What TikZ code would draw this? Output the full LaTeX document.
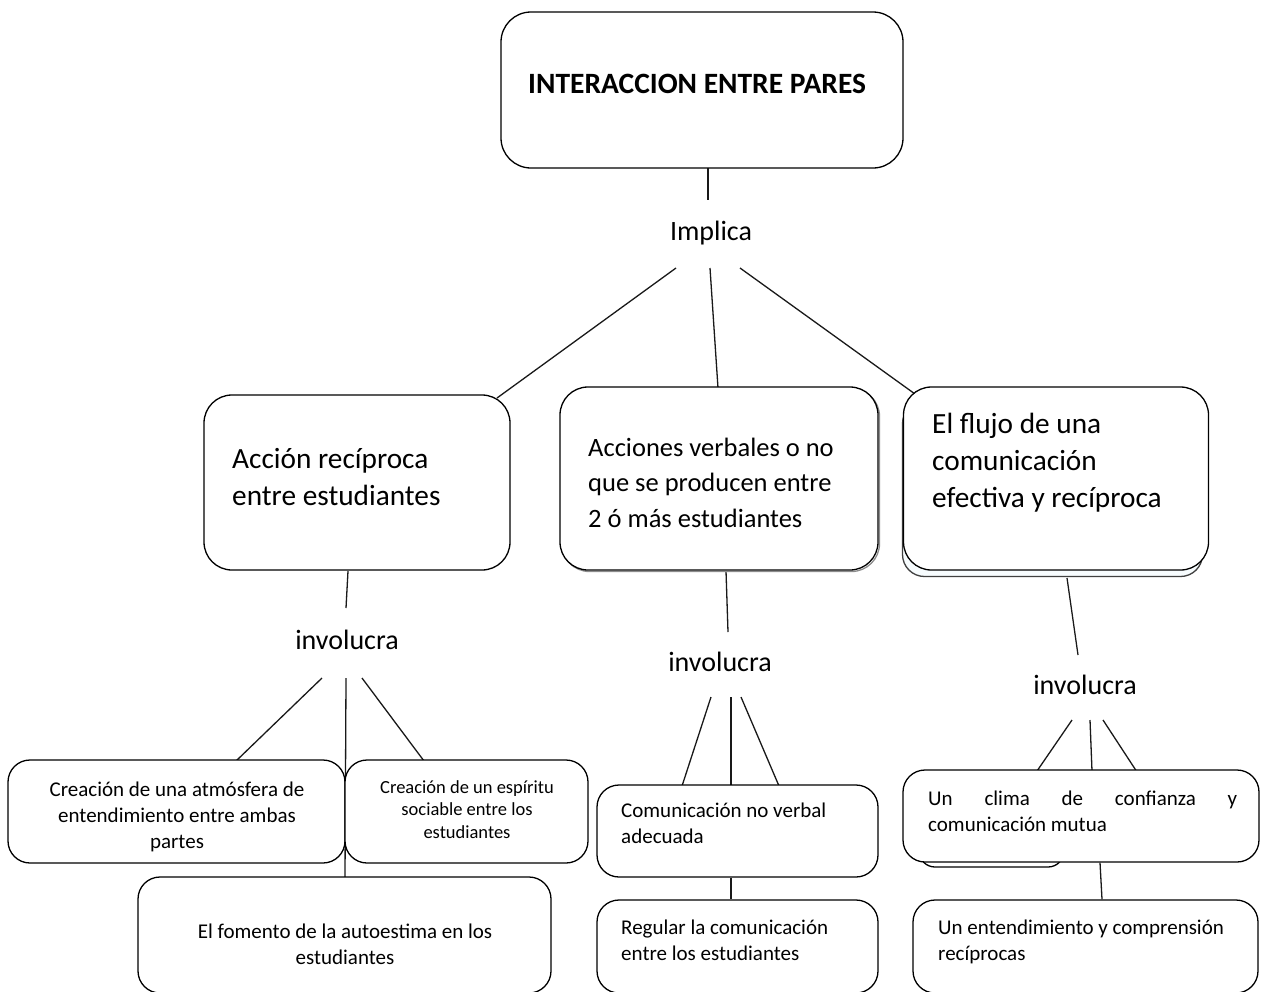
\documentclass[tikz,border=0pt]{standalone}
\usepackage{fontspec}
\setmainfont{Carlito}
\begin{document}
\begin{tikzpicture}[x=1pt,y=-1pt,
  box/.style={draw=black, line width=1.3pt, rounded corners=#1, inner sep=0pt, fill=white},
  box/.default=20pt,
  ln/.style={line width=1.3pt, draw=black!90},
  ltxt/.style={inner sep=0pt, anchor=base west, align=flush left, text width=420pt},
  ctxt/.style={inner sep=0pt, anchor=base, align=flush center, text width=#1},
  big/.style={font=\fontsize{29.3}{37}\selectfont},
  mid/.style={font=\fontsize{26.5}{35.5}\selectfont},
  lab/.style={inner sep=0pt, anchor=base, font=\fontsize{28}{34}\selectfont},
  sm/.style={font=\fontsize{21}{26}\selectfont},
  xs/.style={font=\fontsize{18.5}{22.5}\selectfont}]
\useasboundingbox[fill=white] (0,0) rectangle (1268,991);

% ---------- connector end points ----------
\coordinate (c0a) at (708,168); \coordinate (c0b) at (708,200);
\coordinate (i1) at (676,268); \coordinate (e1) at (497,398);
\coordinate (i2) at (710,268); \coordinate (e2) at (718,388);
\coordinate (i3) at (740,268); \coordinate (e3) at (915,394);
\coordinate (la) at (348,571); \coordinate (lb) at (346,608);
\coordinate (l1) at (322,678); \coordinate (le1) at (236,761);
\coordinate (l2) at (346,678); \coordinate (le2) at (345,878);
\coordinate (l3) at (362,678); \coordinate (le3) at (424,761);
\coordinate (ma) at (726,571); \coordinate (mb) at (728,632);
\coordinate (m1) at (711,697); \coordinate (me1) at (682,786);
\coordinate (m2) at (731,697); \coordinate (me2) at (731,786);
\coordinate (m3) at (741,697); \coordinate (me3) at (779,786);
\coordinate (ra) at (1067,578); \coordinate (rb) at (1078,655);
\coordinate (r1) at (1072,720); \coordinate (re1) at (1037,771);
\coordinate (r2) at (1090,720); \coordinate (re2) at (1092,771);
\coordinate (r3) at (1103,720); \coordinate (re3) at (1137,772);

\draw[ln] (c0a) -- (c0b);
\draw[ln] (i1) -- (e1);
\draw[ln] (i2) -- (e2);
\draw[ln] (i3) -- (e3);
\draw[ln] (la) -- (lb);
\draw[ln] (l1) -- (le1);
\draw[ln] (l2) -- (le2);
\draw[ln] (l3) -- (le3);
\draw[ln] (ma) -- (mb);
\draw[ln] (m1) -- (me1);
\draw[ln] (m2) -- (me2);
\draw[ln] (m3) -- (me3);
\draw[ln] (ra) -- (rb);
\draw[ln] (r1) -- (re1);
\draw[ln] (r2) -- (re2);
\draw[ln] (r3) -- (re3);

% ---------- top ----------
\node[box=30pt, minimum width=402pt, minimum height=156pt] (top) at (702,90) {};
\node[ltxt, font=\bfseries\fontsize{29.5}{35}\selectfont] (ttl) at (528,93) {INTERACCION ENTRE PARES};
\node[lab] (impl) at (711,240) {Implica};

% ---------- level 2 ----------
\node[box=28pt, minimum width=306pt, minimum height=175pt] (bl) at (357,482.5) {};
\node[ltxt, big] (tl) at (232,468) {Acción recíproca\\entre estudiantes};

\node[box=28pt, draw=black!45, minimum width=318pt, minimum height=183pt] (bmsh) at (720.5,480) {};
\node[box=28pt, minimum width=318pt, minimum height=183pt] (bm) at (719,478.5) {};
\node[ltxt, mid] (tm) at (588,456) {Acciones verbales o no\\que se producen entre\\2 ó más estudiantes};

\node[box=22pt, draw=black!75, fill=black!4!cyan!3, minimum width=300pt, minimum height=175pt] (brs) at (1052.5,489) {};
\node[box=28pt, minimum width=305pt, minimum height=183pt] (br) at (1056,478.5) {};
\node[ltxt, big] (tr) at (932,433) {El flujo de una\\comunicación\\efectiva y recíproca};

% ---------- involucra labels ----------
\node[lab] (invl) at (347,649) {involucra};
\node[lab] (invm) at (720,671) {involucra};
\node[lab] (invr) at (1085,694) {involucra};

% ---------- bottom left ----------
\node[box=22pt, minimum width=337pt, minimum height=103pt] (bl1) at (176.5,811.5) {};
\node[ctxt=330pt, sm] (tl1) at (177,796) {Creación de una atmósfera de\\entendimiento entre ambas\\partes};
\node[box=22pt, minimum width=243pt, minimum height=103pt] (bl2) at (466.5,811.5) {};
\node[ctxt=240pt, xs] (tl2) at (467,793) {Creación de un espíritu\\sociable entre los\\estudiantes};
\node[box=22pt, minimum width=413pt, minimum height=116pt] (bl3) at (344.5,935) {};
\node[ctxt=400pt, sm] (tl3) at (345,938) {El fomento de la autoestima en los\\estudiantes};

% ---------- bottom middle ----------
\node[box=22pt, minimum width=281pt, minimum height=92pt] (bm1) at (737.5,831) {};
\node[ltxt, sm] (tm1) at (621,817) {Comunicación no verbal\\adecuada};
\node[box=22pt, minimum width=281pt, minimum height=93pt] (bm2) at (737.5,946.5) {};
\node[ltxt, sm] (tm2) at (621,934) {Regular la comunicación\\entre los estudiantes};
\draw[ln] (bm1.south -| 731,0) -- (bm2.north -| 731,0);

% ---------- bottom right ----------
\node[box=16pt, minimum width=145pt, minimum height=60pt] (br1s) at (991.5,837) {};
\node[box=22pt, minimum width=356pt, minimum height=92pt] (br1) at (1081,816) {};
\node[ltxt, sm] (tr1) at (928,805) {\makebox[309pt][s]{Un clima de confianza y}\\comunicación mutua};
\node[box=22pt, minimum width=345pt, minimum height=93pt] (br2) at (1085.5,946.5) {};
\node[ltxt, sm] (tr2) at (938,934) {Un entendimiento y comprensión\\recíprocas};
\draw[ln] (br1.south -| 1100,0) -- (br2.north -| 1102,0);
\end{tikzpicture}
\end{document}
